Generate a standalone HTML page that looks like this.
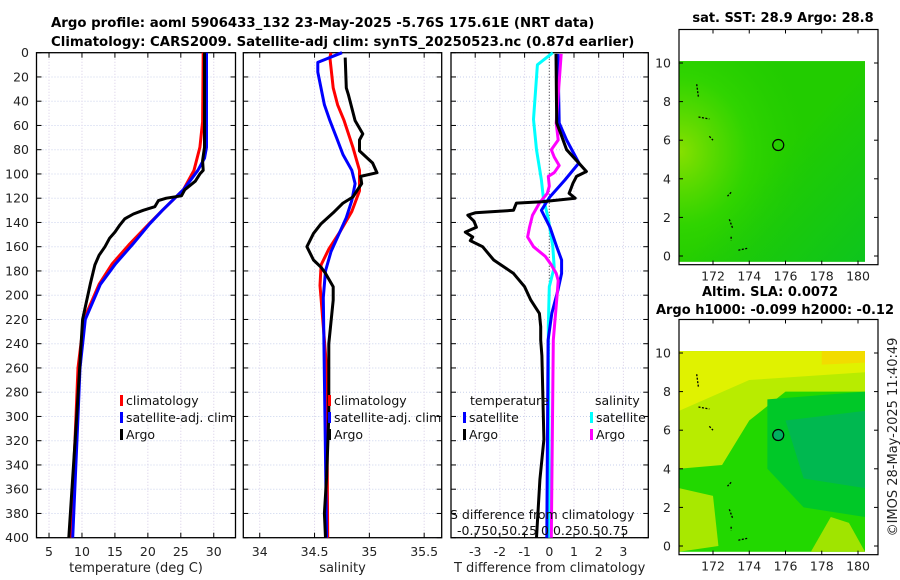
<!DOCTYPE html>
<html><head><meta charset="utf-8"><style>
body{margin:0;background:#fff;}
svg{display:block;font-family:"DejaVu Sans","Liberation Sans",sans-serif;}
</style></head><body>
<svg id="c" width="900" height="580" xmlns="http://www.w3.org/2000/svg">
<text x="51" y="27" font-size="13.3" font-weight="bold">Argo profile: aoml 5906433_132 23-May-2025 -5.76S 175.61E (NRT data)</text>
<text x="51" y="46" font-size="13.3" font-weight="bold">Climatology: CARS2009. Satellite-adj clim: synTS_20250523.nc (0.87d earlier)</text>
<text x="783" y="22" font-size="13" font-weight="bold" text-anchor="middle">sat. SST: 28.9 Argo: 28.8</text>
<text x="770" y="296" font-size="13" font-weight="bold" text-anchor="middle">Altim. SLA: 0.0072</text>
<text x="775" y="314" font-size="13" font-weight="bold" text-anchor="middle">Argo h1000: -0.099 h2000: -0.12</text>
<text transform="translate(897,437) rotate(-90)" font-size="13" text-anchor="middle" fill="#222">©IMOS 28-May-2025 11:40:49</text>
<g id="layer"></g>
</svg>
<script>
// ---- data ----
const depthTicks=[0,20,40,60,80,100,120,140,160,180,200,220,240,260,280,300,320,340,360,380,400];
const tTicks=[5,10,15,20,25,30];
const sTicks=[34,34.5,35,35.5];
const dTicks=[-3,-2,-1,0,1,2,3];
const sdTickLabels=["-0.75","0.5","0.25","0","0.25","0.5","0.75"];
const tClimDepth=[0,57,78,97,113,130,141,158,174,191,220,260,300,400];
const tClim=[28.4,28.3,27.9,27.0,25.4,22.2,20.2,17.2,14.6,12.6,10.3,9.4,9.1,8.3];
const tSatDepth=[0,78,87,97,113,130,141,158,174,191,220,260,300,400];
const tSat=[28.9,28.9,28.6,27.6,25.4,22.2,20.3,17.7,15.1,12.8,10.5,9.7,9.4,8.6];
const tArgoDepth=[0,16,78,89,97,100,106,113,118,120,122,127,130,133,137,142,148,153,160,167,175,190,220,300,400];
const tArgo=[28.6,28.6,28.6,28.3,28.4,27.9,27.2,25.6,25.1,22.8,21.6,21.05,19.3,17.8,16.5,15.75,15.0,14.2,13.5,12.6,11.96,11.3,10.1,9.2,8.0];
const sClimDepth=[0,4,29,43,56,78,97,114,131,148,162,175,192,203,260,400];
const sClim=[34.65,34.64,34.67,34.71,34.77,34.85,34.91,34.91,34.84,34.73,34.63,34.56,34.55,34.56,34.61,34.62];
const sSatDepth=[0,8,16,43,56,70,84,97,108,122,136,148,164,180,202,400];
const sSat=[34.75,34.53,34.53,34.59,34.64,34.70,34.76,34.84,34.87,34.84,34.79,34.73,34.65,34.60,34.58,34.61];
const sArgoDepth=[4,29,35,56,67,72,81,91,99,102,108,112,119,124,132,141,149,160,171,177,182,193,204,240,300,350,380,400];
const sArgo=[34.78,34.79,34.81,34.87,34.94,34.91,34.91,35.03,35.07,34.92,34.93,34.90,34.85,34.76,34.67,34.56,34.49,34.43,34.49,34.56,34.60,34.67,34.67,34.63,34.63,34.61,34.59,34.60];
const dTSatDepth=[1,58,72,91,105,119,130,144,160,171,182,196,215,237,400];
const dTSat=[0.35,0.4,0.7,1.2,0.63,0.02,-0.32,0.03,0.3,0.5,0.5,0.35,0.1,-0.05,-0.1];
const dTArgoDepth=[1,58,66,80,90,98,102,108,112,116,120,123,124,130,132,134,139,144,148,152,155,160,171,182,193,204,215,226,237,250,319,352,400];
const dTArgo=[0.27,0.3,0.45,0.7,1.15,1.5,1.1,0.95,0.88,0.8,1.05,-0.3,-1.33,-1.45,-3.0,-3.3,-3.05,-2.95,-3.4,-3.1,-3.2,-2.7,-2.25,-1.45,-1.0,-0.75,-0.4,-0.35,-0.35,-0.3,-0.22,-0.38,-0.52];
const dSSatDepth=[0,10,55,80,105,120,137,160,177,193,226,400];
const dSSat=[0.035,-0.12,-0.16,-0.13,-0.08,-0.06,-0.01,0.035,0.05,0.0,-0.01,0.0];
const dSArgoDepth=[1,58,72,80,86,93,99,102,110,116,124,134,144,152,160,168,175,182,188,199,237,400];
const dSArgo=[0.12,0.07,0.09,0.02,0.05,0.1,0.05,-0.01,0.0,-0.02,-0.1,-0.17,-0.2,-0.22,-0.16,-0.04,0.02,0.07,0.09,0.08,0.04,0.02];
const mapLonTicks=[172,174,176,178,180];
const mapLatTicks=[0,2,4,6,8,10];
const argoLon=175.6, argoLat=5.75;

// ---- helpers ----
const NS="http://www.w3.org/2000/svg";
const L=document.getElementById('layer');
function mk(tag,attrs,parent){const e=document.createElementNS(NS,tag);for(const k in attrs)e.setAttribute(k,attrs[k]);(parent||L).appendChild(e);return e;}
const Y0=52.7,YK=1.2125;
function yD(d){return Y0+d*YK;}
function lin(d0,d1,r0,r1){return v=>r0+(v-d0)*(r1-r0)/(d1-d0);}
const xT=lin(3.1,33.3,36.5,235.5);
const xS=lin(33.85,35.66,243.3,441.7);
const xD=lin(0,1,549.3,574.0);
const xSD=lin(0,1,549.3,648.1);

const panels=[{x0:36.5,x1:235.5,name:'temperature-panel'},{x0:243.3,x1:441.7,name:'salinity-panel'},{x0:451,x1:648.3,name:'difference-panel'}];
panels.forEach((p,i)=>{
  const g=mk('g',{});
  
  
  depthTicks.forEach(d=>{
    const y=yD(d);
    const gl=mk('line',{x1:p.x0,x2:p.x1,y1:y,y2:y,stroke:'#c9d2ec','stroke-width':1,'stroke-dasharray':'1,2'},g);
    
    
    mk('line',{x1:p.x0,x2:p.x0+5,y1:y,y2:y,stroke:'#000'},g);
    mk('line',{x1:p.x1,x2:p.x1-5,y1:y,y2:y,stroke:'#000'},g);
    if(i===0){const t=mk('text',{x:29,y:y+4.5,'font-size':12.5,'text-anchor':'end',fill:'#222'},g);t.textContent=d;
      
      }
  });
  let ticks,xf,lab;
  if(i===0){ticks=tTicks;xf=xT;lab='temperature (deg C)';}
  else if(i===1){ticks=sTicks;xf=xS;lab='salinity';}
  else {ticks=dTicks;xf=xD;lab='T difference from climatology';}
  ticks.forEach(v=>{const x=xf(v);
    const gl=mk('line',{x1:x,x2:x,y1:Y0,y2:yD(400),stroke:'#d6cce6','stroke-width':1,'stroke-dasharray':'1,2'},g);
    
    
    mk('line',{x1:x,x2:x,y1:Y0,y2:Y0+5,stroke:'#000'},g);
    mk('line',{x1:x,x2:x,y1:yD(400),y2:yD(400)-5,stroke:'#000'},g);
    const t=mk('text',{x:x,y:556,'font-size':12.5,'text-anchor':'middle',fill:'#222'},g);t.textContent=v;
    
    
  });
  const at=mk('text',{x:(p.x0+p.x1)/2,y:572,'font-size':13,'text-anchor':'middle',fill:'#222'},g);at.textContent=lab;
  
  
  const fr=mk('rect',{x:p.x0,y:Y0,width:p.x1-p.x0,height:yD(400)-Y0,fill:'none',stroke:'#000','stroke-width':1.3},g);
  
  
});
const zl=mk('line',{x1:xD(0),x2:xD(0),y1:Y0,y2:yD(400),stroke:'#333','stroke-dasharray':'1,2'});



function series(xs,ds,xf,color,name){
  const pts=xs.map((v,k)=>xf(v).toFixed(1)+','+yD(ds[k]).toFixed(1)).join(' ');
  const e=mk('polyline',{points:pts,fill:'none',stroke:color,'stroke-width':3,'stroke-linejoin':'round'});
  
  
}
series(tClim,tClimDepth,xT,'#ff0000','temp-climatology-line');
series(tSat,tSatDepth,xT,'#0000ff','temp-satellite-line');
series(tArgo,tArgoDepth,xT,'#000000','temp-argo-line');
series(sClim,sClimDepth,xS,'#ff0000','sal-climatology-line');
series(sSat,sSatDepth,xS,'#0000ff','sal-satellite-line');
series(sArgo,sArgoDepth,xS,'#000000','sal-argo-line');
series(dSSat,dSSatDepth,xSD,'#00ffff','sdiff-satellite-line');
series(dTSat,dTSatDepth,xD,'#0000ff','tdiff-satellite-line');
series(dSArgo,dSArgoDepth,xSD,'#ff00ff','sdiff-argo-line');
series(dTArgo,dTArgoDepth,xD,'#000000','tdiff-argo-line');

function legEntry(x,y,color,txt,name){
  const g=mk('g',{});
  
  
  mk('rect',{x:x,y:y-10,width:3,height:11,fill:color},g);
  const t=mk('text',{x:x+6,y:y,'font-size':12.5,fill:'#111'},g);t.textContent=txt;
}
[[120,'climatology','#ff0000'],[120,'satellite-adj. clim','#0000ff'],[120,'Argo','#000']].forEach((e,k)=>legEntry(e[0],405+k*17,e[2],e[1],'legend-entry'));
[[328,'climatology','#ff0000'],[328,'satellite-adj. clim','#0000ff'],[328,'Argo','#000']].forEach((e,k)=>legEntry(e[0],405+k*17,e[2],e[1],'legend-entry'));
const lt1=mk('text',{x:470,y:405,'font-size':12.5,fill:'#111'});lt1.textContent='temperature';


const lt2=mk('text',{x:595,y:405,'font-size':12.5,fill:'#111'});lt2.textContent='salinity';


legEntry(463,422,'#0000ff','satellite','legend-entry');
legEntry(463,439,'#000','Argo','legend-entry');
legEntry(590,422,'#00ffff','satellite','legend-entry');
legEntry(590,439,'#ff00ff','Argo','legend-entry');
const sdt=mk('text',{x:450,y:519,'font-size':12.5,fill:'#111'});sdt.textContent='S difference from climatology';


const sdl=mk('text',{x:457,y:535,'font-size':12.5,fill:'#111'});sdl.textContent='-0.750.50.25 0  0.250.50.75';



const lonX=lin(172,180,713,858);
function drawMap(top,latY0,kind){
  const latY=lat=>latY0-lat*19.3;
  const g=mk('g',{});
  
  
  const ix0=679,ix1=865,iy0=latY(10.1),iy1=latY(-0.3);
  const defs=mk('defs',{},g);
  if(kind==='sst'){
    mk('rect',{x:ix0,y:iy0,width:ix1-ix0,height:iy1-iy0,fill:'#22cc00'},g);
    const rg=mk('radialGradient',{id:'sg',cx:'0',cy:'0.45',r:'0.75'},defs);
    mk('stop',{offset:'0','stop-color':'#88e000'},rg);
    mk('stop',{offset:'0.5','stop-color':'#33d600','stop-opacity':'0.8'},rg);
    mk('stop',{offset:'1','stop-color':'#22cc00','stop-opacity':'0'},rg);
    mk('rect',{x:ix0,y:iy0,width:ix1-ix0,height:iy1-iy0,fill:'url(#sg)'},g);
    const rg2=mk('linearGradient',{id:'sg2',x1:'0',y1:'0',x2:'1',y2:'1'},defs);
    mk('stop',{offset:'0.5','stop-color':'#00c030','stop-opacity':'0'},rg2);
    mk('stop',{offset:'1','stop-color':'#00c030','stop-opacity':'0.6'},rg2);
    mk('rect',{x:ix0,y:iy0,width:ix1-ix0,height:iy1-iy0,fill:'url(#sg2)'},g);
  } else {
    mk('rect',{x:ix0,y:iy0,width:ix1-ix0,height:iy1-iy0,fill:'#22d800'},g);
    mk('polygon',{points:`${ix0},${iy0} ${ix1},${iy0} ${ix1},${latY(8)} ${lonX(176)},${latY(8)} ${lonX(174)},${latY(6.5)} ${lonX(172.5)},${latY(4.2)} ${ix0},${latY(4)}`,fill:'#b8ec00'},g);
    mk('polygon',{points:`${ix0},${iy0} ${ix1},${iy0} ${ix1},${latY(9)} ${lonX(174)},${latY(8.6)} ${ix0},${latY(7)}`,fill:'#e0f200'},g);
    mk('polygon',{points:`${lonX(175)},${latY(7.6)} ${ix1},${latY(8)} ${ix1},${latY(1.5)} ${lonX(177)},${latY(2)} ${lonX(175)},${latY(4)}`,fill:'#00c828'},g);
    mk('polygon',{points:`${lonX(176)},${latY(6.5)} ${ix1},${latY(7)} ${ix1},${latY(3)} ${lonX(177)},${latY(3.5)}`,fill:'#00b850'},g);
    mk('polygon',{points:`${ix0},${latY(3)} ${lonX(172)},${latY(2.6)} ${lonX(172.3)},${latY(0)} ${ix0},${iy1}`,fill:'#a8e800'},g);
    mk('polygon',{points:`${lonX(177.4)},${iy1} ${lonX(178.5)},${latY(1.5)} ${lonX(179.5)},${latY(1.2)} ${ix1},${iy1}`,fill:'#a0e400'},g);
    mk('polygon',{points:`${lonX(178)},${iy0} ${ix1},${iy0} ${ix1},${latY(9.5)} ${lonX(178)},${latY(9.4)}`,fill:'#f2dc00'},g);
  }
  [[171.1,8.9,171.2,8.2],[171.2,7.2,171.8,7.1],[171.8,6.2,172.0,6.0],[173.0,3.3,172.8,3.1],[172.9,1.9,173.1,1.4],[173.0,1.0,173.0,0.8],[173.4,0.3,173.9,0.4]].forEach(s=>{
    mk('line',{x1:lonX(s[0]),y1:latY(s[1]),x2:lonX(s[2]),y2:latY(s[3]),stroke:'#000','stroke-width':1.3,'stroke-dasharray':'2,1.5'},g);
  });
  const c=mk('circle',{cx:lonX(argoLon),cy:latY(argoLat),r:5.5,fill:kind==='sst'?'none':'#00b060',stroke:'#000','stroke-width':1.2},g);
  
  
  const fy1=latY(-0.45);
  mk('rect',{x:679,y:top,width:199,height:fy1-top,fill:'none',stroke:'#000','stroke-width':1.2},g);
  mapLatTicks.forEach(v=>{const y=latY(v);
    mk('line',{x1:679,x2:683,y1:y,y2:y,stroke:'#000'},g);
    mk('line',{x1:878,x2:874,y1:y,y2:y,stroke:'#000'},g);
    const t=mk('text',{x:671,y:y+4.5,'font-size':12.5,'text-anchor':'end',fill:'#222'},g);t.textContent=v;
    
    
  });
  mapLonTicks.forEach(v=>{const x=lonX(v);
    mk('line',{x1:x,x2:x,y1:fy1,y2:fy1-4,stroke:'#000'},g);
    mk('line',{x1:x,x2:x,y1:top,y2:top+4,stroke:'#000'},g);
    const t=mk('text',{x:x,y:fy1+16,'font-size':12.5,'text-anchor':'middle',fill:'#222'},g);t.textContent=v;
    
    
  });
}
drawMap(29.5,256,'sst');
drawMap(319.5,546,'sla');
</script>
</body></html>
